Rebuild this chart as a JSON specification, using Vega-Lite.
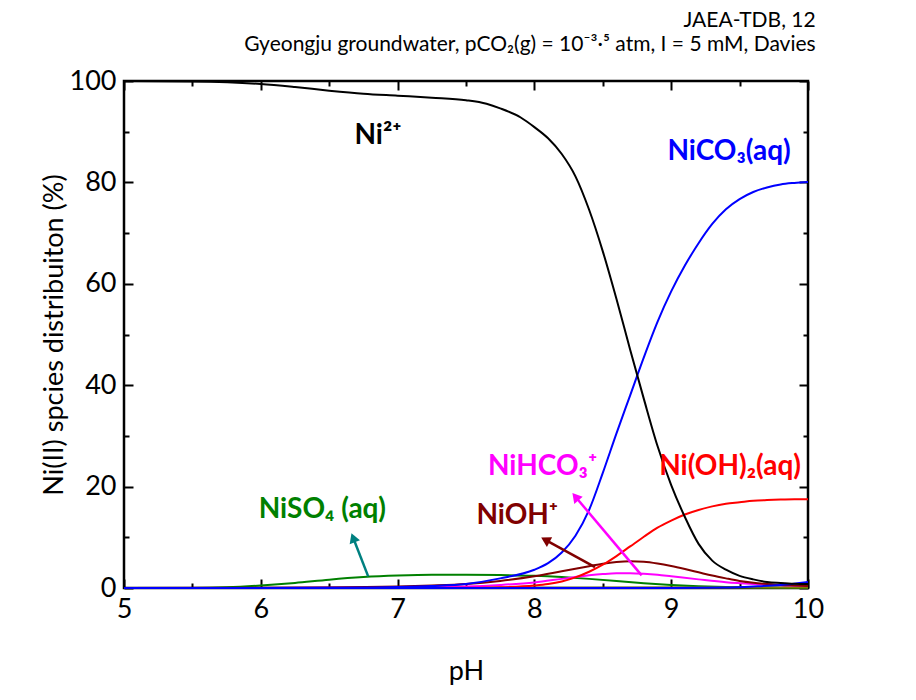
{
  "$schema": "https://vega.github.io/schema/vega-lite/v6.json",
  "width": 684,
  "height": 507,
  "autosize": {"type": "none"},
  "padding": {"left": 124, "top": 81, "right": 108, "bottom": 112},
  "background": "white",
  "config": {
    "view": {"stroke": "black", "strokeWidth": 2.5},
    "font": "Lato",
    "axis": {"grid": false, "domain": false}
  },
  "title": {
    "text": "JAEA-TDB, 12",
    "subtitle": "Gyeongju groundwater, pCO₂(g) = 10⁻³·⁵ atm, I = 5 mM, Davies",
    "anchor": "end",
    "dx": -8,
    "font": "Lato",
    "fontSize": 21,
    "fontWeight": "normal",
    "color": "black",
    "subtitleFont": "Lato",
    "subtitleFontSize": 21,
    "subtitleColor": "black",
    "subtitlePadding": 3,
    "offset": 12
  },
  "datasets": {
    "curves": [
      {"series": "NiSO4(aq)", "pH": 5.0, "value": 0},
      {"series": "NiSO4(aq)", "pH": 5.5, "value": 0.02},
      {"series": "NiSO4(aq)", "pH": 5.75, "value": 0.15},
      {"series": "NiSO4(aq)", "pH": 6.0, "value": 0.5},
      {"series": "NiSO4(aq)", "pH": 6.25, "value": 1.0},
      {"series": "NiSO4(aq)", "pH": 6.5, "value": 1.65},
      {"series": "NiSO4(aq)", "pH": 6.75, "value": 2.15},
      {"series": "NiSO4(aq)", "pH": 7.0, "value": 2.45},
      {"series": "NiSO4(aq)", "pH": 7.25, "value": 2.6},
      {"series": "NiSO4(aq)", "pH": 7.5, "value": 2.6},
      {"series": "NiSO4(aq)", "pH": 7.75, "value": 2.55},
      {"series": "NiSO4(aq)", "pH": 8.0, "value": 2.4},
      {"series": "NiSO4(aq)", "pH": 8.2, "value": 2.15},
      {"series": "NiSO4(aq)", "pH": 8.4, "value": 1.8},
      {"series": "NiSO4(aq)", "pH": 8.6, "value": 1.4},
      {"series": "NiSO4(aq)", "pH": 8.8, "value": 0.95},
      {"series": "NiSO4(aq)", "pH": 9.0, "value": 0.6},
      {"series": "NiSO4(aq)", "pH": 9.2, "value": 0.35},
      {"series": "NiSO4(aq)", "pH": 9.4, "value": 0.2},
      {"series": "NiSO4(aq)", "pH": 9.6, "value": 0.12},
      {"series": "NiSO4(aq)", "pH": 9.8, "value": 0.07},
      {"series": "NiSO4(aq)", "pH": 10.0, "value": 0.05},

      {"series": "other", "pH": 5.0, "value": 0},
      {"series": "other", "pH": 7.0, "value": 0},
      {"series": "other", "pH": 8.0, "value": 0.05},
      {"series": "other", "pH": 9.0, "value": 0.1},
      {"series": "other", "pH": 10.0, "value": 0.1},

      {"series": "NiHCO3+", "pH": 5.0, "value": 0},
      {"series": "NiHCO3+", "pH": 6.0, "value": 0.01},
      {"series": "NiHCO3+", "pH": 7.0, "value": 0.1},
      {"series": "NiHCO3+", "pH": 7.5, "value": 0.3},
      {"series": "NiHCO3+", "pH": 7.75, "value": 0.6},
      {"series": "NiHCO3+", "pH": 8.0, "value": 1.1},
      {"series": "NiHCO3+", "pH": 8.2, "value": 1.8},
      {"series": "NiHCO3+", "pH": 8.4, "value": 2.5},
      {"series": "NiHCO3+", "pH": 8.5, "value": 2.75},
      {"series": "NiHCO3+", "pH": 8.6, "value": 2.9},
      {"series": "NiHCO3+", "pH": 8.7, "value": 2.9},
      {"series": "NiHCO3+", "pH": 8.8, "value": 2.8},
      {"series": "NiHCO3+", "pH": 8.9, "value": 2.6},
      {"series": "NiHCO3+", "pH": 9.0, "value": 2.3},
      {"series": "NiHCO3+", "pH": 9.2, "value": 1.7},
      {"series": "NiHCO3+", "pH": 9.4, "value": 1.15},
      {"series": "NiHCO3+", "pH": 9.6, "value": 0.8},
      {"series": "NiHCO3+", "pH": 9.8, "value": 0.55},
      {"series": "NiHCO3+", "pH": 10.0, "value": 0.4},

      {"series": "NiOH+", "pH": 5.0, "value": 0},
      {"series": "NiOH+", "pH": 6.0, "value": 0.05},
      {"series": "NiOH+", "pH": 6.5, "value": 0.1},
      {"series": "NiOH+", "pH": 7.0, "value": 0.3},
      {"series": "NiOH+", "pH": 7.25, "value": 0.5},
      {"series": "NiOH+", "pH": 7.5, "value": 0.8},
      {"series": "NiOH+", "pH": 7.75, "value": 1.4},
      {"series": "NiOH+", "pH": 8.0, "value": 2.3},
      {"series": "NiOH+", "pH": 8.2, "value": 3.3},
      {"series": "NiOH+", "pH": 8.4, "value": 4.3},
      {"series": "NiOH+", "pH": 8.5, "value": 4.8},
      {"series": "NiOH+", "pH": 8.6, "value": 5.15},
      {"series": "NiOH+", "pH": 8.7, "value": 5.3},
      {"series": "NiOH+", "pH": 8.8, "value": 5.2},
      {"series": "NiOH+", "pH": 8.9, "value": 4.85},
      {"series": "NiOH+", "pH": 9.0, "value": 4.35},
      {"series": "NiOH+", "pH": 9.1, "value": 3.75},
      {"series": "NiOH+", "pH": 9.2, "value": 3.1},
      {"series": "NiOH+", "pH": 9.3, "value": 2.45},
      {"series": "NiOH+", "pH": 9.4, "value": 1.9},
      {"series": "NiOH+", "pH": 9.5, "value": 1.4},
      {"series": "NiOH+", "pH": 9.6, "value": 1.05},
      {"series": "NiOH+", "pH": 9.7, "value": 0.8},
      {"series": "NiOH+", "pH": 9.8, "value": 0.6},
      {"series": "NiOH+", "pH": 9.9, "value": 0.5},
      {"series": "NiOH+", "pH": 10.0, "value": 0.4},

      {"series": "Ni(OH)2(aq)", "pH": 5.0, "value": 0},
      {"series": "Ni(OH)2(aq)", "pH": 7.0, "value": 0},
      {"series": "Ni(OH)2(aq)", "pH": 7.5, "value": 0.05},
      {"series": "Ni(OH)2(aq)", "pH": 7.75, "value": 0.15},
      {"series": "Ni(OH)2(aq)", "pH": 8.0, "value": 0.5},
      {"series": "Ni(OH)2(aq)", "pH": 8.1, "value": 0.8},
      {"series": "Ni(OH)2(aq)", "pH": 8.2, "value": 1.3},
      {"series": "Ni(OH)2(aq)", "pH": 8.3, "value": 2.1},
      {"series": "Ni(OH)2(aq)", "pH": 8.4, "value": 3.2},
      {"series": "Ni(OH)2(aq)", "pH": 8.5, "value": 4.6},
      {"series": "Ni(OH)2(aq)", "pH": 8.6, "value": 6.3},
      {"series": "Ni(OH)2(aq)", "pH": 8.7, "value": 8.2},
      {"series": "Ni(OH)2(aq)", "pH": 8.8, "value": 10.1},
      {"series": "Ni(OH)2(aq)", "pH": 8.9, "value": 11.9},
      {"series": "Ni(OH)2(aq)", "pH": 9.0, "value": 13.3},
      {"series": "Ni(OH)2(aq)", "pH": 9.1, "value": 14.5},
      {"series": "Ni(OH)2(aq)", "pH": 9.2, "value": 15.4},
      {"series": "Ni(OH)2(aq)", "pH": 9.3, "value": 16.1},
      {"series": "Ni(OH)2(aq)", "pH": 9.4, "value": 16.6},
      {"series": "Ni(OH)2(aq)", "pH": 9.5, "value": 16.9},
      {"series": "Ni(OH)2(aq)", "pH": 9.6, "value": 17.2},
      {"series": "Ni(OH)2(aq)", "pH": 9.7, "value": 17.35},
      {"series": "Ni(OH)2(aq)", "pH": 9.8, "value": 17.45},
      {"series": "Ni(OH)2(aq)", "pH": 9.9, "value": 17.5},
      {"series": "Ni(OH)2(aq)", "pH": 10.0, "value": 17.5},

      {"series": "Ni(CO3)2 2-", "pH": 5.0, "value": 0},
      {"series": "Ni(CO3)2 2-", "pH": 9.0, "value": 0},
      {"series": "Ni(CO3)2 2-", "pH": 9.4, "value": 0.1},
      {"series": "Ni(CO3)2 2-", "pH": 9.6, "value": 0.3},
      {"series": "Ni(CO3)2 2-", "pH": 9.8, "value": 0.6},
      {"series": "Ni(CO3)2 2-", "pH": 10.0, "value": 1.2},

      {"series": "NiCO3(aq)", "pH": 5.0, "value": 0},
      {"series": "NiCO3(aq)", "pH": 6.0, "value": 0},
      {"series": "NiCO3(aq)", "pH": 6.5, "value": 0.05},
      {"series": "NiCO3(aq)", "pH": 7.0, "value": 0.2},
      {"series": "NiCO3(aq)", "pH": 7.25, "value": 0.4},
      {"series": "NiCO3(aq)", "pH": 7.5, "value": 0.8},
      {"series": "NiCO3(aq)", "pH": 7.75, "value": 1.9},
      {"series": "NiCO3(aq)", "pH": 8.0, "value": 3.6},
      {"series": "NiCO3(aq)", "pH": 8.1, "value": 4.9},
      {"series": "NiCO3(aq)", "pH": 8.2, "value": 7.0},
      {"series": "NiCO3(aq)", "pH": 8.3, "value": 10.3},
      {"series": "NiCO3(aq)", "pH": 8.4, "value": 15.4},
      {"series": "NiCO3(aq)", "pH": 8.5, "value": 22.7},
      {"series": "NiCO3(aq)", "pH": 8.6, "value": 30.5},
      {"series": "NiCO3(aq)", "pH": 8.7, "value": 38.0},
      {"series": "NiCO3(aq)", "pH": 8.8, "value": 45.5},
      {"series": "NiCO3(aq)", "pH": 8.9, "value": 52.5},
      {"series": "NiCO3(aq)", "pH": 9.0, "value": 58.5},
      {"series": "NiCO3(aq)", "pH": 9.1, "value": 63.6},
      {"series": "NiCO3(aq)", "pH": 9.2, "value": 68.0},
      {"series": "NiCO3(aq)", "pH": 9.3, "value": 71.8},
      {"series": "NiCO3(aq)", "pH": 9.4, "value": 74.7},
      {"series": "NiCO3(aq)", "pH": 9.5, "value": 76.7},
      {"series": "NiCO3(aq)", "pH": 9.6, "value": 78.1},
      {"series": "NiCO3(aq)", "pH": 9.7, "value": 79.0},
      {"series": "NiCO3(aq)", "pH": 9.8, "value": 79.6},
      {"series": "NiCO3(aq)", "pH": 9.9, "value": 79.9},
      {"series": "NiCO3(aq)", "pH": 10.0, "value": 80.1},

      {"series": "Ni2+", "pH": 5.0, "value": 100},
      {"series": "Ni2+", "pH": 5.5, "value": 99.9},
      {"series": "Ni2+", "pH": 6.0, "value": 99.4},
      {"series": "Ni2+", "pH": 6.25, "value": 98.8},
      {"series": "Ni2+", "pH": 6.5, "value": 98.1},
      {"series": "Ni2+", "pH": 6.75, "value": 97.5},
      {"series": "Ni2+", "pH": 7.0, "value": 97.1},
      {"series": "Ni2+", "pH": 7.25, "value": 96.7},
      {"series": "Ni2+", "pH": 7.5, "value": 96.2},
      {"series": "Ni2+", "pH": 7.65, "value": 95.5},
      {"series": "Ni2+", "pH": 7.75, "value": 94.6},
      {"series": "Ni2+", "pH": 7.9, "value": 92.8},
      {"series": "Ni2+", "pH": 8.0, "value": 90.9},
      {"series": "Ni2+", "pH": 8.1, "value": 88.7},
      {"series": "Ni2+", "pH": 8.2, "value": 85.6},
      {"series": "Ni2+", "pH": 8.3, "value": 81.2},
      {"series": "Ni2+", "pH": 8.4, "value": 74.6},
      {"series": "Ni2+", "pH": 8.5, "value": 66.4},
      {"series": "Ni2+", "pH": 8.6, "value": 57.0},
      {"series": "Ni2+", "pH": 8.7, "value": 47.0},
      {"series": "Ni2+", "pH": 8.8, "value": 37.3},
      {"series": "Ni2+", "pH": 8.9, "value": 28.0},
      {"series": "Ni2+", "pH": 9.0, "value": 20.3},
      {"series": "Ni2+", "pH": 9.1, "value": 14.0},
      {"series": "Ni2+", "pH": 9.2, "value": 8.7},
      {"series": "Ni2+", "pH": 9.3, "value": 5.4},
      {"series": "Ni2+", "pH": 9.4, "value": 3.6},
      {"series": "Ni2+", "pH": 9.5, "value": 2.4},
      {"series": "Ni2+", "pH": 9.6, "value": 1.7},
      {"series": "Ni2+", "pH": 9.7, "value": 1.2},
      {"series": "Ni2+", "pH": 9.8, "value": 1.0},
      {"series": "Ni2+", "pH": 9.9, "value": 0.85},
      {"series": "Ni2+", "pH": 10.0, "value": 0.8}
    ],
    "arrows": [
      {"series": "arrow NiSO4", "part": "tail", "pH": 6.785, "value": 2.3},
      {"series": "arrow NiSO4", "part": "head", "pH": 6.675, "value": 9.9},
      {"series": "arrow NiOH", "part": "tail", "pH": 8.443, "value": 4.1},
      {"series": "arrow NiOH", "part": "head", "pH": 8.08, "value": 9.5},
      {"series": "arrow NiHCO3", "part": "tail", "pH": 8.784, "value": 2.5},
      {"series": "arrow NiHCO3", "part": "head", "pH": 8.30, "value": 18.0}
    ],
    "labels": [
      {"series": "Ni2+", "label": "Ni²⁺", "pH": 6.857, "value": 87.5},
      {"series": "NiCO3(aq)", "label": "NiCO₃(aq)", "pH": 9.423, "value": 84.5},
      {"series": "NiHCO3+", "label": "NiHCO₃⁺", "pH": 8.06, "value": 22.2},
      {"series": "Ni(OH)2(aq)", "label": "Ni(OH)₂(aq)", "pH": 9.43, "value": 22.2},
      {"series": "NiOH+", "label": "NiOH⁺", "pH": 7.875, "value": 12.7},
      {"series": "NiSO4(aq)", "label": "NiSO₄ (aq)", "pH": 6.45, "value": 13.8}
    ]
  },
  "resolve": {"axis": {"x": "independent", "y": "independent"}},
  "layer": [
    {
      "data": {"name": "curves"},
      "mark": {"type": "line", "strokeWidth": 2, "interpolate": "monotone"},
      "encoding": {
        "x": {
          "field": "pH", "type": "quantitative",
          "scale": {"domain": [5, 10], "nice": false, "zero": false},
          "axis": {
            "orient": "bottom", "title": "pH",
            "values": [5, 5.5, 6, 6.5, 7, 7.5, 8, 8.5, 9, 9.5, 10],
            "labelExpr": "datum.value % 1 === 0 ? format(datum.value, 'd') : ''",
            "tickSize": {"condition": {"test": "datum.value % 1 !== 0", "value": -5}, "value": -9},
            "tickWidth": 2, "tickColor": "black",
            "labelFont": "Lato", "labelFontSize": 27, "labelColor": "black",
            "labelPadding": 17, "labelFlush": false,
            "titleFont": "Lato", "titleFontSize": 27, "titleFontWeight": "normal", "titleColor": "black",
            "titlePadding": 36
          }
        },
        "y": {
          "field": "value", "type": "quantitative",
          "scale": {"domain": [0, 100], "nice": false},
          "axis": {
            "orient": "left", "title": "Ni(II) spcies distribuiton (%)",
            "values": [0, 10, 20, 30, 40, 50, 60, 70, 80, 90, 100],
            "labelExpr": "datum.value % 20 === 0 ? format(datum.value, 'd') : ''",
            "tickSize": {"condition": {"test": "datum.value % 20 !== 0", "value": -5}, "value": -9},
            "tickWidth": 2, "tickColor": "black",
            "labelFont": "Lato", "labelFontSize": 27, "labelColor": "black",
            "labelPadding": 17, "labelFlush": false,
            "titleFont": "Lato", "titleFontSize": 27, "titleFontWeight": "normal", "titleColor": "black",
            "titlePadding": 1
          }
        },
        "color": {
          "field": "series", "type": "nominal", "legend": null,
          "scale": {
            "domain": ["Ni2+", "NiCO3(aq)", "Ni(CO3)2 2-", "Ni(OH)2(aq)", "NiOH+", "NiHCO3+", "NiSO4(aq)", "other", "arrow NiSO4", "arrow NiOH", "arrow NiHCO3"],
            "range": ["#000000", "#0000ff", "#0000ff", "#ff0000", "#800000", "#ff00ff", "#008000", "#808000", "#008080", "#800000", "#ff00ff"]
          }
        }
      }
    },
    {
      "data": {"name": "arrows"},
      "mark": {"type": "line", "strokeWidth": 2.5},
      "encoding": {
        "x": {
          "field": "pH", "type": "quantitative",
          "axis": {
            "orient": "top", "title": null, "labels": false,
            "values": [5, 5.5, 6, 6.5, 7, 7.5, 8, 8.5, 9, 9.5, 10],
            "tickSize": {"condition": {"test": "datum.value % 1 !== 0", "value": -5}, "value": -9},
            "tickWidth": 2, "tickColor": "black"
          }
        },
        "y": {
          "field": "value", "type": "quantitative",
          "axis": {
            "orient": "right", "title": null, "labels": false,
            "values": [0, 10, 20, 30, 40, 50, 60, 70, 80, 90, 100],
            "tickSize": {"condition": {"test": "datum.value % 20 !== 0", "value": -5}, "value": -9},
            "tickWidth": 2, "tickColor": "black"
          }
        },
        "color": {"field": "series", "type": "nominal", "legend": null},
        "detail": {"field": "series"}
      }
    },
    {
      "data": {"name": "arrows"},
      "transform": [{"filter": "datum.series === 'arrow NiSO4' && datum.part === 'head'"}],
      "mark": {"type": "point", "shape": "triangle-up", "filled": true, "opacity": 1, "size": 120, "angle": -20.6},
      "encoding": {
        "x": {"field": "pH", "type": "quantitative", "axis": null},
        "y": {"field": "value", "type": "quantitative", "axis": null},
        "color": {"field": "series", "type": "nominal", "legend": null}
      }
    },
    {
      "data": {"name": "arrows"},
      "transform": [{"filter": "datum.series === 'arrow NiOH' && datum.part === 'head'"}],
      "mark": {"type": "point", "shape": "triangle-up", "filled": true, "opacity": 1, "size": 120, "angle": -61.4},
      "encoding": {
        "x": {"field": "pH", "type": "quantitative", "axis": null},
        "y": {"field": "value", "type": "quantitative", "axis": null},
        "color": {"field": "series", "type": "nominal", "legend": null}
      }
    },
    {
      "data": {"name": "arrows"},
      "transform": [{"filter": "datum.series === 'arrow NiHCO3' && datum.part === 'head'"}],
      "mark": {"type": "point", "shape": "triangle-up", "filled": true, "opacity": 1, "size": 120, "angle": -40},
      "encoding": {
        "x": {"field": "pH", "type": "quantitative", "axis": null},
        "y": {"field": "value", "type": "quantitative", "axis": null},
        "color": {"field": "series", "type": "nominal", "legend": null}
      }
    },
    {
      "data": {"name": "labels"},
      "mark": {"type": "text", "font": "Lato", "fontSize": 28, "fontWeight": "bold", "align": "center", "baseline": "alphabetic"},
      "encoding": {
        "x": {"field": "pH", "type": "quantitative", "axis": null},
        "y": {"field": "value", "type": "quantitative", "axis": null},
        "text": {"field": "label"},
        "color": {"field": "series", "type": "nominal", "legend": null}
      }
    }
  ]
}
